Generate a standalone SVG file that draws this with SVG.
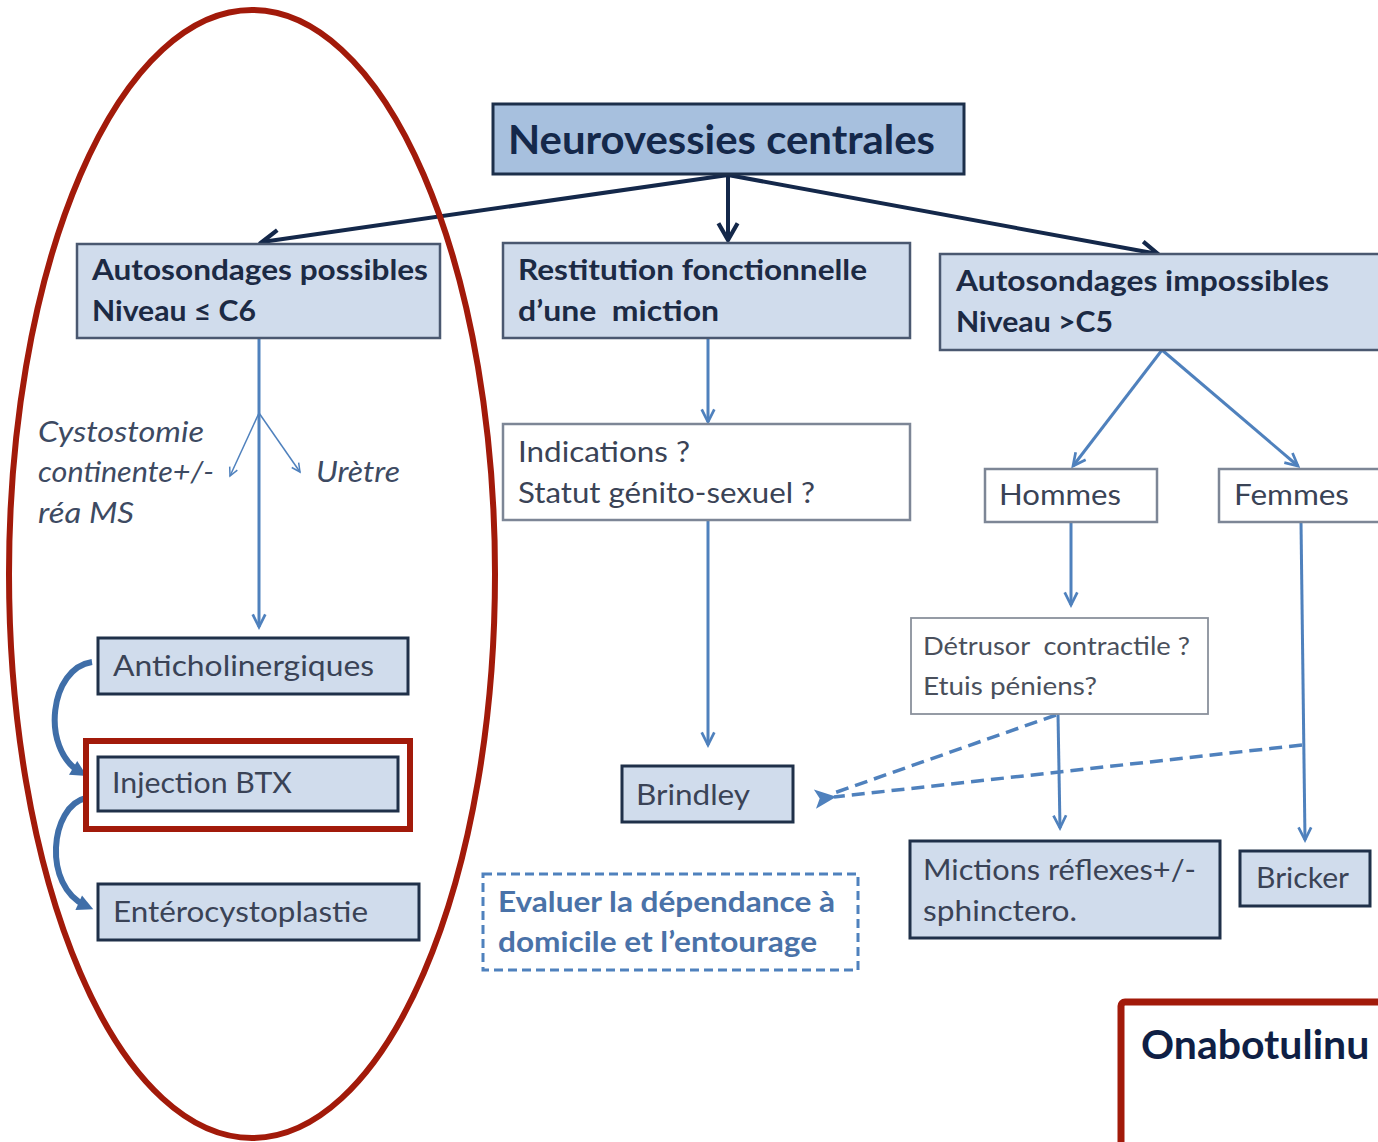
<svg xmlns="http://www.w3.org/2000/svg" width="1378" height="1142" viewBox="0 0 1378 1142">
<defs>
<style>
.t{font-family:Lato,"Open Sans","Liberation Sans",sans-serif;}
.b{font-weight:bold;fill:#1c2a44;font-size:29px;}
.n{fill:#3a4356;font-size:29px;}
.it{font-style:italic;fill:#3d4a62;font-size:28px;}
.dark{fill:#d0dcec;stroke:#1f3049;stroke-width:3;}
.mid{fill:#d0dcec;stroke:#4a5870;stroke-width:2.5;}
.wht{fill:#ffffff;stroke:#7d8696;stroke-width:2.5;}
.bl{stroke:#4f81bd;stroke-width:3;fill:none;}
.dsh{stroke:#4f81bd;stroke-width:3.5;fill:none;stroke-dasharray:13,7;}
</style>
<marker id="ad" viewBox="0 0 20 20" refX="17" refY="10" markerWidth="24" markerHeight="24" markerUnits="userSpaceOnUse" orient="auto">
<path d="M3,2 L17,10 L3,18" fill="none" stroke="#14284a" stroke-width="3.5"/>
</marker>
<marker id="ab" viewBox="0 0 20 20" refX="17" refY="10" markerWidth="18" markerHeight="18" markerUnits="userSpaceOnUse" orient="auto">
<path d="M3,3 L17,10 L3,17" fill="none" stroke="#4f81bd" stroke-width="3"/>
</marker>
<marker id="as" viewBox="0 0 20 20" refX="17" refY="10" markerWidth="12" markerHeight="12" markerUnits="userSpaceOnUse" orient="auto">
<path d="M3,3 L17,10 L3,17" fill="none" stroke="#4f81bd" stroke-width="2.5"/>
</marker>
<marker id="af" viewBox="0 0 20 20" refX="2" refY="10" markerWidth="24" markerHeight="24" markerUnits="userSpaceOnUse" orient="auto">
<path d="M0,10 L18,2 L14,10 L18,18 Z" fill="#4f81bd"/>
</marker>
<marker id="ac" viewBox="0 0 20 20" refX="10" refY="10" markerWidth="20" markerHeight="20" markerUnits="userSpaceOnUse" orient="auto">
<path d="M2,2 L18,10 L2,18 Z" fill="#3f6ea8"/>
</marker>
</defs>
<rect width="1378" height="1142" fill="#ffffff"/>

<g id="connectors">
<line x1="728" y1="175" x2="262" y2="242" stroke="#14284a" stroke-width="4" marker-end="url(#ad)"/>
<line x1="728" y1="175" x2="728" y2="240" stroke="#14284a" stroke-width="4" marker-end="url(#ad)"/>
<line x1="728" y1="175" x2="1158" y2="254" stroke="#14284a" stroke-width="4" marker-end="url(#ad)"/>
<line class="bl" x1="259" y1="338" x2="259" y2="627" marker-end="url(#ab)"/>
<line x1="259" y1="413" x2="230" y2="476" stroke="#4f81bd" stroke-width="1.5" marker-end="url(#as)"/>
<line x1="259" y1="413" x2="300" y2="472" stroke="#4f81bd" stroke-width="1.5" marker-end="url(#as)"/>
<line class="bl" x1="708" y1="338" x2="708" y2="422" marker-end="url(#ab)"/>
<line class="bl" x1="708" y1="520" x2="708" y2="745" marker-end="url(#ab)"/>
<line class="bl" x1="1162" y1="350" x2="1073" y2="466" marker-end="url(#ab)"/>
<line class="bl" x1="1162" y1="350" x2="1298" y2="466" marker-end="url(#ab)"/>
<line class="bl" x1="1071" y1="522" x2="1071" y2="605" marker-end="url(#ab)"/>
<line class="bl" x1="1058" y1="714" x2="1060" y2="828" marker-end="url(#ab)"/>
<line class="bl" x1="1301" y1="522" x2="1305" y2="840" marker-end="url(#ab)"/>
<line class="dsh" x1="1056" y1="715" x2="834" y2="793"/>
<line class="dsh" x1="1302" y1="745" x2="834" y2="797" marker-end="url(#af)"/>
<path d="M92,662 C50,668 40,748 80,772" stroke="#3f6ea8" stroke-width="6" fill="none" marker-end="url(#ac)"/>
<path d="M86,798 C50,806 42,886 86,906" stroke="#3f6ea8" stroke-width="6" fill="none" marker-end="url(#ac)"/>
</g>

<g id="n-top">
<rect x="493" y="104" width="471" height="70" fill="#a7c0de" stroke="#1c2f4a" stroke-width="3"/>
<text class="t" x="508" y="154" font-size="41" font-weight="bold" fill="#14284a" textLength="427" lengthAdjust="spacingAndGlyphs">Neurovessies centrales</text>
</g>
<g id="n-possibles">
<rect class="mid" x="77" y="244" width="363" height="94"/>
<text class="t b" x="92" y="280" textLength="336" lengthAdjust="spacingAndGlyphs">Autosondages possibles</text>
<text class="t b" x="92" y="321" textLength="164" lengthAdjust="spacingAndGlyphs">Niveau ≤ C6</text>
</g>
<g id="n-restitution">
<rect class="mid" x="503" y="243" width="407" height="95"/>
<text class="t b" x="518" y="280" textLength="349" lengthAdjust="spacingAndGlyphs">Restitution fonctionnelle</text>
<text class="t b" x="518" y="321" xml:space="preserve" textLength="201" lengthAdjust="spacingAndGlyphs">d’une  miction</text>
</g>
<g id="n-impossibles">
<rect class="mid" x="940" y="254" width="445" height="96"/>
<text class="t b" x="956" y="291" textLength="373" lengthAdjust="spacingAndGlyphs">Autosondages impossibles</text>
<text class="t b" x="956" y="332" textLength="157" lengthAdjust="spacingAndGlyphs">Niveau &gt;C5</text>
</g>
<g id="l-cysto">
<text class="t it" x="38" y="442" textLength="166" lengthAdjust="spacingAndGlyphs">Cystostomie</text>
<text class="t it" x="38" y="482" textLength="176" lengthAdjust="spacingAndGlyphs">continente+/-</text>
<text class="t it" x="38" y="523" textLength="96" lengthAdjust="spacingAndGlyphs">réa MS</text>
</g>
<g id="l-uretre">
<text class="t it" x="316" y="482" textLength="84" lengthAdjust="spacingAndGlyphs">Urètre</text>
</g>
<g id="n-indications">
<rect class="wht" x="503" y="424" width="407" height="96"/>
<text class="t n" x="518" y="462" textLength="172" lengthAdjust="spacingAndGlyphs">Indications ?</text>
<text class="t n" x="518" y="503" textLength="297" lengthAdjust="spacingAndGlyphs">Statut génito-sexuel ?</text>
</g>
<g id="n-hommes">
<rect class="wht" x="985" y="469" width="172" height="53"/>
<text class="t n" x="999" y="505" textLength="122" lengthAdjust="spacingAndGlyphs">Hommes</text>
</g>
<g id="n-femmes">
<rect class="wht" x="1219" y="469" width="170" height="53"/>
<text class="t n" x="1234" y="505" textLength="115" lengthAdjust="spacingAndGlyphs">Femmes</text>
</g>
<g id="n-detrusor">
<rect x="911" y="618" width="297" height="96" fill="#ffffff" stroke="#8a919c" stroke-width="1.8"/>
<text class="t" x="923" y="655" font-size="25" fill="#4a505c" xml:space="preserve" textLength="267" lengthAdjust="spacingAndGlyphs">Détrusor  contractile ?</text>
<text class="t" x="923" y="695" font-size="25" fill="#4a505c" textLength="174" lengthAdjust="spacingAndGlyphs">Etuis péniens?</text>
</g>
<g id="n-brindley">
<rect class="dark" x="622" y="766" width="171" height="56"/>
<text class="t n" x="636" y="805" textLength="114" lengthAdjust="spacingAndGlyphs">Brindley</text>
</g>
<g id="n-mictions">
<rect class="dark" x="910" y="841" width="310" height="97"/>
<text class="t n" x="923" y="880" textLength="273" lengthAdjust="spacingAndGlyphs">Mictions réflexes+/-</text>
<text class="t n" x="923" y="921" textLength="154" lengthAdjust="spacingAndGlyphs">sphinctero.</text>
</g>
<g id="n-bricker">
<rect class="dark" x="1240" y="851" width="130" height="55"/>
<text class="t n" x="1256" y="888" textLength="93" lengthAdjust="spacingAndGlyphs">Bricker</text>
</g>
<g id="n-anticho">
<rect class="dark" x="98" y="638" width="310" height="56"/>
<text class="t n" x="113" y="676" textLength="261" lengthAdjust="spacingAndGlyphs">Anticholinergiques</text>
</g>
<g id="n-btx">
<rect x="86" y="741" width="324" height="88" fill="none" stroke="#a21a0a" stroke-width="6"/>
<rect class="dark" x="98" y="757" width="300" height="54"/>
<text class="t n" x="112" y="793" textLength="180" lengthAdjust="spacingAndGlyphs">Injection BTX</text>
</g>
<g id="n-entero">
<rect class="dark" x="98" y="884" width="321" height="56"/>
<text class="t n" x="113" y="922" textLength="255" lengthAdjust="spacingAndGlyphs">Entérocystoplastie</text>
</g>
<g id="n-evaluer">
<rect x="483" y="874" width="375" height="96" fill="none" stroke="#4f81bd" stroke-width="3" stroke-dasharray="9,5"/>
<text class="t" x="498" y="912" font-size="29" font-weight="bold" fill="#4a72a8" textLength="337" lengthAdjust="spacingAndGlyphs">Evaluer la dépendance à</text>
<text class="t" x="498" y="952" font-size="29" font-weight="bold" fill="#4a72a8" textLength="319" lengthAdjust="spacingAndGlyphs">domicile et l’entourage</text>
</g>
<g id="n-onabot">
<rect x="1121" y="1002" width="280" height="160" rx="4" fill="#ffffff" stroke="#a21a0a" stroke-width="7"/>
<text class="t" x="1141" y="1059" font-size="41" font-weight="bold" fill="#0f1f45">Onabotulinu</text>
</g>
<ellipse cx="252" cy="574" rx="243" ry="564" fill="none" stroke="#a21a0a" stroke-width="6"/>
</svg>
